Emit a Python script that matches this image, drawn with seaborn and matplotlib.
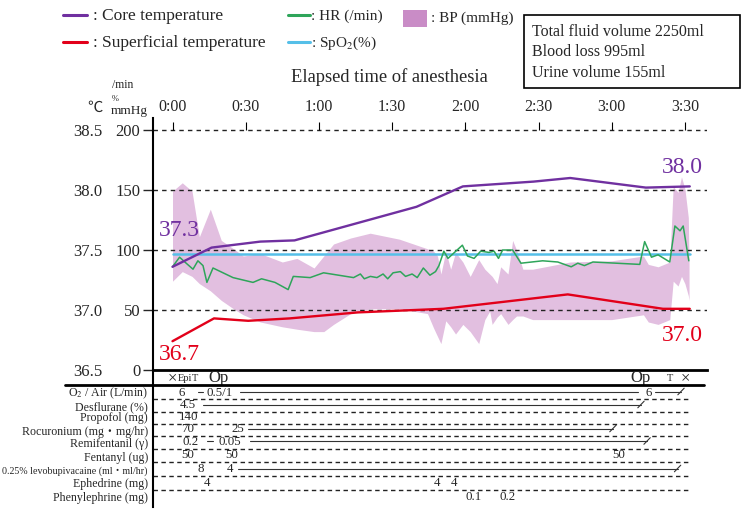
import numpy as np
import pandas as pd
import matplotlib
matplotlib.use("Agg")
import matplotlib.pyplot as plt
import seaborn as sns
from matplotlib.lines import Line2D
from matplotlib.patches import Rectangle

sns.set_style("white")
plt.rcParams['font.family'] = ['Liberation Serif', 'Noto Sans CJK JP', 'DejaVu Sans']
plt.rcParams['mathtext.fontset'] = 'stix'

# ---------------- data (time in minutes from start of anesthesia) ----------------
core_t = [0, 16, 36, 50, 100, 119, 148, 163, 194, 212]
core_temp = [37.36, 37.52, 37.57, 37.58, 37.86, 38.03, 38.07, 38.10, 38.02, 38.03]

sup_t = [0, 17, 31, 48, 76, 111, 162, 201, 212]
sup_temp = [36.74, 36.93, 36.91, 36.93, 36.98, 37.01, 37.13, 37.01, 37.01]

spo2_t = [0, 212]
spo2 = [97, 97]

hr_t = [0, 2.9, 5.6, 8.4, 10.4, 12.5, 14.1, 16.6, 24.8, 33,
        36.5, 42, 47.4, 49.5, 56.4, 61.9, 74.2, 77, 78.6, 81.1,
        83.8, 86.3, 88.2, 90.4, 93.4, 95.5, 98.2, 100.3, 102.8, 105.5,
        107.8, 109.2, 111.2, 112.9, 118.8, 120.9, 123.6, 126.3, 129.7, 131.8,
        133.6, 135.3, 139.4, 142.8, 151.7, 157.9, 163.4, 166.1, 168.8, 172.3,
        191.5, 193.5, 196.3, 199, 203.8, 205.9, 208, 209.3, 211.6]
hr = [86, 94, 89, 84, 91, 87, 73, 85, 77, 73,
      76, 73, 67, 78, 77, 81, 77, 80, 76, 78,
      77, 80, 76, 81, 82, 78, 80, 77, 85, 79,
      82, 87, 99, 93, 104, 95, 93, 99, 98, 99,
      93, 100, 100, 89, 91, 90, 86, 89, 87, 90,
      88, 107, 94, 96, 90, 120, 116, 120, 91]

bp_t = [0, 4, 8, 11, 15.5, 20, 25, 29, 36, 45, 51, 58, 62, 66, 73, 81, 93,
        104.5, 107, 108.6, 110, 112, 114, 116, 119, 122, 125.5, 128, 130, 131,
        133, 134.5, 137.5, 139.4, 141, 143.6, 147.6, 163, 180, 193, 195, 199,
        203.8, 205.2, 207.2, 208.6, 210, 211.4, 211.7]
bp_sys = [149, 156, 149, 111, 134, 108, 101, 95, 97, 90, 93, 85, 95, 105, 110, 114, 109,
          101, 99, 95, 80, 99, 84, 98, 90, 78, 92, 84, 80, 78,
          72, 86, 80, 108, 100, 84, 84, 90, 91, 95, 88, 86,
          90, 153, 148, 161, 151, 127, 90]
bp_dia = [74, 82, 78, 72, 66, 58, 51, 46, 40, 36, 34, 32, 32, 38, 47, 51, 51,
          47, 35, 28, 22, 41, 36, 30, 38, 32, 22, 42, 49, 38,
          44, 47, 38, 42, 45, 45, 42, 42, 42, 46, 40, 38,
          42, 74, 70, 78, 72, 62, 58]

time_ticks = [0, 30, 60, 90, 120, 150, 180, 210]
time_labels = ["0:00", "0:30", "1:00", "1:30", "2:00", "2:30", "3:00", "3:30"]
left_ticks = [0, 50, 100, 150, 200]
temp_ticks = [36.5, 37.0, 37.5, 38.0, 38.5]

# start / end temperature annotations: (time, temperature position, text)
core_labels = [(3, 37.66, "37.3"), (209, 38.19, "38.0")]
sup_labels = [(3, 36.63, "36.7"), (209, 36.79, "37.0")]

# table rows
row_names = ["O$_2$ / Air (L/min)", "Desflurane (%)", "Propofol (mg)",
             "Rocuronium (mg・mg/hr)", "Remifentanil (γ)", "Fentanyl (ug)",
             "0.25% levobupivacaine (ml・ml/hr)", "Ephedrine (mg)", "Phenylephrine (mg)"]
row_values = [
    [(3.9, "6"), (19.5, "0.5/1"), (195.3, "6")],
    [(6.4, "4.5")],
    [(6.8, "140")],
    [(6.4, "70"), (26.8, "25")],
    [(7.2, "0.2"), (23.6, "0.05")],
    [(6.4, "50"), (24.4, "50"), (183.0, "50")],
    [(11.7, "8"), (23.6, "4")],
    [(14.1, "4"), (108.4, "4"), (115.4, "4")],
    [(123.6, "0.1"), (137.5, "0.2")],
]
row_lines = [
    [(10.5, 12.5, False), (27.7, 190.8, False), (197.7, 208.4, True)],
    [(12.5, 192.0, True)],
    [],
    [(30.9, 180.5, True)],
    [(14.1, 16.6, False), (31.8, 194.5, True)],
    [],
    [(26.8, 207.0, True)],
    [],
    [],
]
events = [(0, "×", 12, "center"), (2.2, "Epi", 7.5, "left"), (9.4, "T", 7.5, "center"),
          (19.0, "Op", 12, "center"), (191.6, "Op", 12, "center"),
          (203.9, "T", 7.5, "center"), (210.0, "×", 12, "center")]

summary = ["Total fluid volume 2250ml", "Blood loss 995ml", "Urine volume 155ml"]

# ---------------- colours ----------------
C_CORE = "#7030A0"
C_SUP = "#E2001A"
C_HR = "#2EA55A"
C_SPO2 = "#55BFE8"
C_BP = "#E2BFE0"
C_BP_LEG = "#C98CC6"

W, H = 750, 520
def fx(x): return x / W
def fy(y): return 1 - y / H

fig = plt.figure(figsize=(7.5, 5.2), dpi=100)

L, R = 153, 707
TOP, BOT = 118, 370
ax = fig.add_axes([fx(L), fy(BOT), (R - L) / W, (BOT - TOP) / H])
XMIN = (L - 172.5) / 2.44
XMAX = (R - 172.5) / 2.44
ax.set_xlim(XMIN, XMAX)
ax.set_ylim(0, 210)

# BP band
ax.fill_between(bp_t, bp_dia, bp_sys, color=C_BP, lw=0, zorder=1)

# grid dashed lines
for v in left_ticks[1:]:
    ax.axhline(v, color="#222222", ls=(0, (3.2, 3)), lw=1.0, zorder=2)

df_hr = pd.DataFrame({"t": hr_t, "v": hr})
df_sp = pd.DataFrame({"t": spo2_t, "v": spo2})
sns.lineplot(data=df_sp, x="t", y="v", ax=ax, color=C_SPO2, lw=1.8, sort=False, estimator=None, zorder=3)
sns.lineplot(data=df_hr, x="t", y="v", ax=ax, color=C_HR, lw=1.1, sort=False, estimator=None, zorder=4)

for s in ["top", "right"]:
    ax.spines[s].set_visible(False)
ax.spines["left"].set_linewidth(1.5)
ax.spines["left"].set_color("black")
ax.spines["bottom"].set_linewidth(2.0)
ax.spines["bottom"].set_color("black")
ax.set_yticks(left_ticks)
ax.set_yticklabels([str(v) for v in left_ticks])
ax.tick_params(axis="y", length=7, width=1, pad=2, labelsize=12, direction="out", left=True)
ax.tick_params(axis="x", bottom=False, labelbottom=False)
ax.set_xlabel("")
ax.set_ylabel("")

# top time ticks and labels
ax.vlines(time_ticks, 200, 206.5, color="black", lw=0.8, clip_on=False)
for t, lab in zip(time_ticks, time_labels):
    ax.text(t, (370 - 107) / 1.2, lab, ha="center", va="center", fontsize=11.5, clip_on=False)

# temperature axis
axt = ax.twinx()
axt.set_ylim(36.5, 36.5 + 2.10)
df_core = pd.DataFrame({"t": core_t, "v": core_temp})
df_sup = pd.DataFrame({"t": sup_t, "v": sup_temp})
sns.lineplot(data=df_core, x="t", y="v", ax=axt, color=C_CORE, lw=1.7, sort=False, estimator=None)
sns.lineplot(data=df_sup, x="t", y="v", ax=axt, color=C_SUP, lw=1.7, sort=False, estimator=None)
for s in axt.spines.values():
    s.set_visible(False)
axt.yaxis.tick_left()
axt.set_yticks(temp_ticks)
axt.set_yticklabels([f"{v:.1f}" for v in temp_ticks])
axt.tick_params(axis="y", length=0, pad=36.5, labelsize=12)
axt.tick_params(axis="x", bottom=False, labelbottom=False)
axt.set_xlabel("")
axt.set_ylabel("")
axt.set_xlim(XMIN, XMAX)

for t, v, s in core_labels:
    axt.text(t, v, s, color=C_CORE, fontsize=17, ha="center", va="center")
for t, v, s in sup_labels:
    axt.text(t, v, s, color=C_SUP, fontsize=17, ha="center", va="center")

# axis unit labels
fig.text(fx(95), fy(108), "℃", fontsize=11, ha="center", va="center")
fig.text(fx(112), fy(85), "/min", fontsize=8.5, ha="left", va="center")
fig.text(fx(112), fy(99), "%", fontsize=6, ha="left", va="center")
fig.text(fx(111), fy(111), "mmHg", fontsize=9.5, ha="left", va="center")
fig.text(fx(389), fy(77), "Elapsed time of anesthesia", fontsize=13.3, ha="center", va="center")

# ---------------- table ----------------
TB = 507
tab = fig.add_axes([fx(L), fy(TB), (R - L) / W, (TB - BOT) / H], sharex=ax)
tab.set_ylim(TB, BOT)
tab.patch.set_alpha(0)
for s in ["top", "right", "bottom"]:
    tab.spines[s].set_visible(False)
tab.spines["left"].set_linewidth(1.5)
tab.spines["left"].set_color("black")
tab.tick_params(left=False, labelleft=False, bottom=False, labelbottom=False)

label_y = [393.5, 407, 418.5, 431.5, 444, 457.5, 471, 484.5, 498]
dash_y = [399, 412, 423.5, 436, 448.5, 462, 476, 489.5]

for y in dash_y:
    tab.hlines(y, XMIN, 212, color="#222222", ls=(0, (3.2, 2.5)), lw=1.0)

for i, name in enumerate(row_names):
    fs = 7.2 if i == 6 else 8.6
    fig.text(fx(148), fy(label_y[i]), name, fontsize=fs, ha="right", va="center")
    base = dash_y[i] if i < len(dash_y) else 503
    for t, txt in row_values[i]:
        tab.text(t, base - 0.5, txt, fontsize=9.3, ha="center", va="bottom")
    for t0, t1, slash in row_lines[i]:
        ly = base - 7.5
        tab.plot([t0, t1], [ly, ly], color="#333333", lw=0.8)
        if slash:
            tab.plot([t1 - 1.3, t1 + 1.3], [ly + 3.3, ly - 3.3], color="#333333", lw=0.8)

for t, txt, fs, ha in events:
    tab.text(t, 378.5, txt, fontsize=fs, ha=ha, va="center")

fig.add_artist(Line2D([fx(65), fx(704)], [fy(385), fy(385)], color="black", lw=2.0))

# ---------------- legend ----------------
def leg_line(x0, x1, y, c):
    fig.add_artist(Line2D([fx(x0), fx(x1)], [fy(y), fy(y)], color=c, lw=2.2))

leg_line(63, 87, 15, C_CORE)
fig.text(fx(93), fy(16), ":", fontsize=12.5, ha="left", va="center")
fig.text(fx(102), fy(16), "Core temperature", fontsize=12.5, ha="left", va="center")
leg_line(63, 87, 42, C_SUP)
fig.text(fx(93), fy(43), ":", fontsize=12.5, ha="left", va="center")
fig.text(fx(102), fy(43), "Superficial temperature", fontsize=12.5, ha="left", va="center")
leg_line(288, 310, 15, C_HR)
fig.text(fx(311), fy(16), ": HR (/min)", fontsize=11, ha="left", va="center")
leg_line(288, 310, 42, C_SPO2)
fig.text(fx(311), fy(43), ": SpO$_2$(%)", fontsize=11, ha="left", va="center")
fig.add_artist(Rectangle((fx(403), fy(27)), fx(24), 17 / H, color=C_BP_LEG, lw=0))
fig.text(fx(431), fy(18), ": BP (mmHg)", fontsize=11, ha="left", va="center")

fig.add_artist(Rectangle((fx(524), fy(88)), fx(216), 73 / H, fill=False, edgecolor="black", lw=1.2))
for i, s in enumerate(summary):
    fig.text(fx(532), fy(32 + i * 20.5), s, fontsize=11.5, ha="left", va="center")

fig.savefig("out.png", dpi=100)
